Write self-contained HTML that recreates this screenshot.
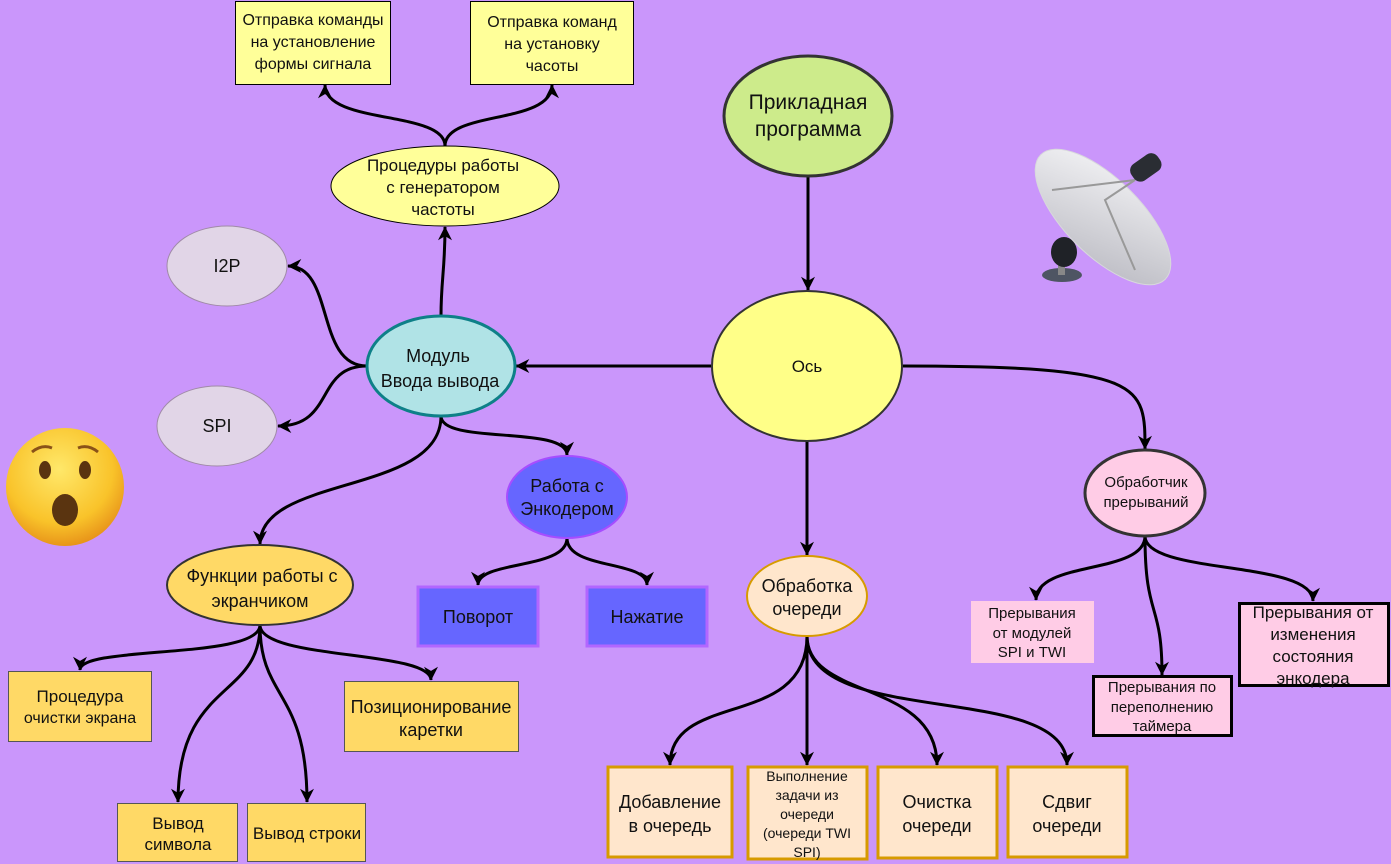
<!DOCTYPE html>
<html><head><meta charset="utf-8"><style>
html,body{margin:0;padding:0;background:#ca96fb;}
svg{display:block}
text{font-family:"Liberation Sans",sans-serif;fill:#111;text-anchor:middle}
</style></head><body>
<svg width="1391" height="864" viewBox="0 0 1391 864" xmlns="http://www.w3.org/2000/svg">
<defs>
<marker id="a" markerWidth="14" markerHeight="14" refX="9.5" refY="5" orient="auto" markerUnits="userSpaceOnUse" viewBox="0 0 10 10"><path d="M0,0 L10,5 L0,10 L3,5 Z" fill="#000"/></marker>
<radialGradient id="face" cx="45%" cy="35%" r="65%"><stop offset="0" stop-color="#ffe86a"/><stop offset="0.7" stop-color="#f9c32a"/><stop offset="1" stop-color="#e8951a"/></radialGradient>
<linearGradient id="dish" x1="0" y1="0" x2="1" y2="1"><stop offset="0" stop-color="#f6f6f8"/><stop offset="1" stop-color="#b8b8c0"/></linearGradient>
</defs>
<rect width="1391" height="864" fill="#ca96fb"/>

<g fill="none" stroke="#000" stroke-width="3" marker-end="url(#a)">
<path d="M808,176 L808,290"/>
<path d="M711,366 L516,366"/>
<path d="M903,366 C1145,366 1145,385 1145,449"/>
<path d="M807,441 L807,555"/>
<path d="M441,316 C441,280 445,270 445,227"/>
<path d="M445,146 C445,110 325,125 325,85"/>
<path d="M445,146 C445,110 552,125 552,85"/>
<path d="M367,366 C315,366 335,266 288,266"/>
<path d="M367,366 C315,366 335,426 278,426"/>
<path d="M441,416 C441,445 567,425 567,455"/>
<path d="M441,416 C441,495 260,475 260,544"/>
<path d="M567,538 C567,570 478,560 478,585"/>
<path d="M567,538 C567,570 647,560 647,585"/>
<path d="M260,625 C260,660 80,645 80,670"/>
<path d="M260,625 C260,660 431,650 431,680"/>
<path d="M260,625 C260,700 178,680 178,802"/>
<path d="M260,625 C260,700 307,690 307,802"/>
<path d="M807,636 C807,730 670,690 670,765"/>
<path d="M807,636 L807,765"/>
<path d="M807,636 C807,700 937,680 937,765"/>
<path d="M807,636 C807,730 1067,680 1067,765"/>
<path d="M1145,536 C1145,575 1036,560 1036,600"/>
<path d="M1145,536 C1145,620 1162,600 1162,675"/>
<path d="M1145,536 C1145,575 1313,560 1313,601"/>
</g>

<rect x="235.5" y="1.5" width="155" height="83" fill="#ffff99" stroke="#000"/>
<text font-size="16" x="313" y="25">Отправка команды</text><text font-size="16" x="313" y="47">на установление</text><text font-size="16" x="313" y="69">формы сигнала</text>
<rect x="470.5" y="1.5" width="163" height="83" fill="#ffff99" stroke="#000"/>
<text font-size="16" x="552" y="27">Отправка команд</text><text font-size="16" x="552" y="49">на установку</text><text font-size="16" x="552" y="71">часоты</text>

<ellipse cx="445" cy="186" rx="114" ry="40" fill="#ffff99" stroke="#000"/>
<text font-size="17" x="443" y="171">Процедуры работы</text><text font-size="17" x="443" y="193">с генератором</text><text font-size="17" x="443" y="215">частоты</text>

<ellipse cx="227" cy="266" rx="60" ry="40" fill="#e1d5e7" stroke="#a08aa8"/>
<text font-size="18" x="227" y="272">I2P</text>
<ellipse cx="217" cy="426" rx="60" ry="40" fill="#e1d5e7" stroke="#a08aa8"/>
<text font-size="18" x="217" y="432">SPI</text>

<ellipse cx="441" cy="366" rx="74" ry="50" fill="#b0e3e6" stroke="#0e8088" stroke-width="3"/>
<text font-size="18" x="438" y="362">Модуль</text><text font-size="18" x="440" y="387">Ввода вывода</text>

<ellipse cx="808" cy="116" rx="84" ry="60" fill="#cdeb8b" stroke="#333" stroke-width="3"/>
<text font-size="21" x="808" y="109">Прикладная</text><text font-size="21" x="808" y="136">программа</text>

<ellipse cx="807" cy="366" rx="95" ry="75" fill="#ffff88" stroke="#333" stroke-width="2"/>
<text font-size="17" x="807" y="372">Ось</text>

<ellipse cx="1145" cy="493" rx="60" ry="43" fill="#ffcce6" stroke="#333" stroke-width="3"/>
<text font-size="15" x="1146" y="487">Обработчик</text><text font-size="15" x="1146" y="507">прерываний</text>

<ellipse cx="567" cy="497" rx="60" ry="41" fill="#6666ff" stroke="#a64dff" stroke-width="2"/>
<text font-size="18" x="567" y="492">Работа с</text><text font-size="18" x="567" y="515">Энкодером</text>
<rect x="418" y="587" width="120" height="59" fill="#6666ff" stroke="#b266ff" stroke-width="3"/>
<text font-size="18" x="478" y="623">Поворот</text>
<rect x="587" y="587" width="120" height="59" fill="#6666ff" stroke="#b266ff" stroke-width="3"/>
<text font-size="18" x="647" y="623">Нажатие</text>

<ellipse cx="260" cy="585" rx="93" ry="40" fill="#ffd966" stroke="#333" stroke-width="2"/>
<text font-size="18" x="262" y="582">Функции работы с</text><text font-size="18" x="260" y="607">экранчиком</text>
<rect x="8.5" y="671.5" width="143" height="70" fill="#ffd966" stroke="#555"/>
<text font-size="17" x="80" y="702">Процедура</text><text font-size="16" x="80" y="723">очистки экрана</text>
<rect x="344.5" y="681.5" width="174" height="70" fill="#ffd966" stroke="#555"/>
<text font-size="18" x="431" y="713">Позиционирование</text><text font-size="18" x="431" y="736">каретки</text>
<rect x="117.5" y="803.5" width="120" height="58" fill="#ffd966" stroke="#555"/>
<text font-size="17" x="178" y="829">Вывод</text><text font-size="17" x="178" y="850">символа</text>
<rect x="247.5" y="803.5" width="118" height="58" fill="#ffd966" stroke="#555"/>
<text font-size="17" x="307" y="839">Вывод строки</text>

<ellipse cx="807" cy="596" rx="60" ry="40" fill="#ffe6cc" stroke="#d79b00" stroke-width="2"/>
<text font-size="18" x="807" y="592">Обработка</text><text font-size="18" x="807" y="615">очереди</text>

<g fill="#ffe6cc" stroke="#d79b00" stroke-width="3">
<rect x="608" y="767" width="124" height="90"/>
<rect x="748" y="767" width="119" height="92"/>
<rect x="878" y="767" width="119" height="91"/>
<rect x="1008" y="767" width="119" height="90"/>
</g>
<text font-size="18" x="670" y="808">Добавление</text><text font-size="18" x="670" y="832">в очередь</text>
<text font-size="14" x="807" y="781">Выполнение</text><text font-size="14" x="807" y="800">задачи из</text><text font-size="14" x="807" y="819">очереди</text><text font-size="14" x="807" y="838">(очереди TWI</text><text font-size="14" x="807" y="857">SPI)</text>
<text font-size="18" x="937" y="808">Очистка</text><text font-size="18" x="937" y="832">очереди</text>
<text font-size="18" x="1067" y="808">Сдвиг</text><text font-size="18" x="1067" y="832">очереди</text>

<rect x="971" y="601" width="123" height="62" fill="#ffcce6"/>
<text font-size="15" x="1032" y="618">Прерывания</text><text font-size="15" x="1032" y="638">от модулей</text><text font-size="15" x="1032" y="657">SPI и TWI</text>
<rect x="1093.5" y="676.5" width="138" height="59" fill="#ffcce6" stroke="#000" stroke-width="3"/>
<text font-size="15" x="1162" y="692">Прерывания по</text><text font-size="15" x="1162" y="712">переполнению</text><text font-size="15" x="1162" y="731">таймера</text>
<rect x="1239.5" y="603.5" width="149" height="82" fill="#ffcce6" stroke="#000" stroke-width="3"/>
<text font-size="17" x="1313" y="618">Прерывания от</text><text font-size="17" x="1313" y="640">изменения</text><text font-size="17" x="1313" y="662">состояния</text><text font-size="17" x="1313" y="684">энкодера</text>

<circle cx="65" cy="487" r="59" fill="url(#face)"/>
<ellipse cx="45" cy="470" rx="6" ry="9" fill="#5a3410"/>
<ellipse cx="85" cy="470" rx="6" ry="9" fill="#5a3410"/>
<ellipse cx="65" cy="510" rx="13" ry="16" fill="#5a3410"/>
<path d="M32,452 Q42,444 52,448" stroke="#8a5218" stroke-width="3" fill="none"/>
<path d="M78,448 Q88,444 98,452" stroke="#8a5218" stroke-width="3" fill="none"/>

<ellipse cx="1062" cy="275" rx="20" ry="7" fill="#4e5563"/>
<rect x="1058" y="250" width="7" height="25" fill="#888"/>
<ellipse cx="1064" cy="252" rx="13" ry="15" fill="#1f2227"/>
<ellipse cx="1103" cy="217" rx="88" ry="38" fill="url(#dish)" stroke="#d8d8dc" transform="rotate(45 1103 217)"/>
<path d="M1052,190 L1135,180 L1105,200 L1135,270" stroke="#999" stroke-width="2" fill="none"/>
<rect x="1130" y="158" width="32" height="20" rx="8" fill="#2a2d33" transform="rotate(-35 1145 168)"/>
</svg>
</body></html>
